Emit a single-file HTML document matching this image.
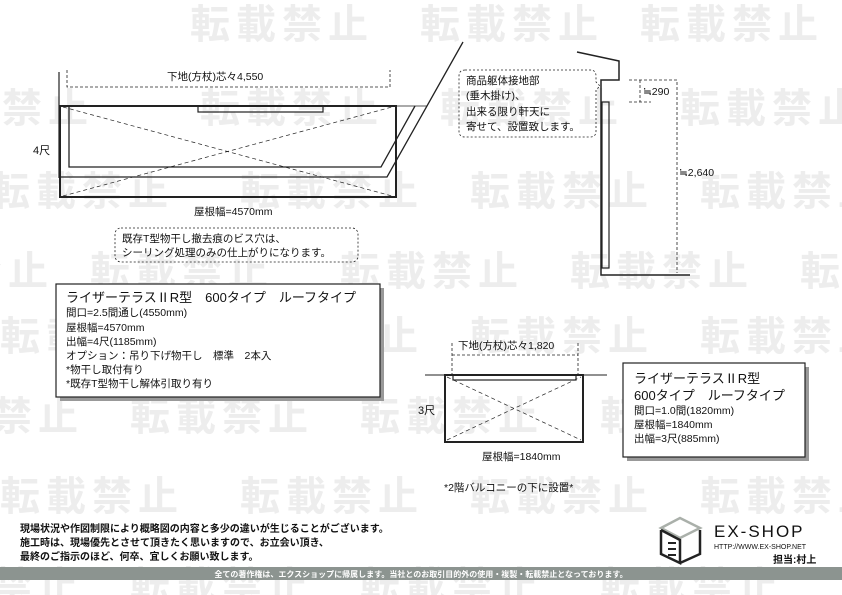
<!DOCTYPE html>
<html><head><meta charset="utf-8"><style>
html,body{margin:0;padding:0;background:#fff}
#c{position:relative;width:842px;height:595px;overflow:hidden;background:#fff}
svg{position:absolute;left:0;top:0}
text{font-family:"Liberation Sans","Noto Sans CJK JP",sans-serif;fill:#111}
.wm{fill:#ededed;font-size:40px;font-weight:bold;letter-spacing:6px}
</style></head><body><div id="c">
<svg width="842" height="595" viewBox="0 0 842 595">
<g class="wmg">
<text class="wm" x="190" y="38">転載禁止</text><text class="wm" x="420" y="38">転載禁止</text><text class="wm" x="640" y="38">転載禁止</text>
<text class="wm" x="-90" y="122">転載禁止</text><text class="wm" x="200" y="122">転載禁止</text><text class="wm" x="440" y="122">転載禁止</text><text class="wm" x="680" y="122">転載禁止</text>
<text class="wm" x="-10" y="205">転載禁止</text><text class="wm" x="240" y="205">転載禁止</text><text class="wm" x="470" y="205">転載禁止</text><text class="wm" x="700" y="205">転載禁止</text>
<text class="wm" x="-130" y="285">転載禁止</text><text class="wm" x="90" y="285">転載禁止</text><text class="wm" x="340" y="285">転載禁止</text><text class="wm" x="570" y="285">転載禁止</text><text class="wm" x="800" y="285">転載禁止</text>
<text class="wm" x="0" y="350">転載禁止</text><text class="wm" x="240" y="350">転載禁止</text><text class="wm" x="470" y="350">転載禁止</text><text class="wm" x="700" y="350">転載禁止</text>
<text class="wm" x="-100" y="430">転載禁止</text><text class="wm" x="130" y="430">転載禁止</text><text class="wm" x="360" y="430">転載禁止</text><text class="wm" x="600" y="430">転載禁止</text>
<text class="wm" x="0" y="510">転載禁止</text><text class="wm" x="240" y="510">転載禁止</text><text class="wm" x="470" y="510">転載禁止</text><text class="wm" x="700" y="510">転載禁止</text>
<text class="wm" x="-100" y="600">転載禁止</text><text class="wm" x="130" y="600">転載禁止</text><text class="wm" x="360" y="600">転載禁止</text><text class="wm" x="600" y="600">転載禁止</text>
</g>
<g fill="none" stroke="#222">
<line x1="59" y1="72" x2="59" y2="178" stroke-width="1.2"/>
<path d="M67 70 V87 H390 V70" stroke-dasharray="3,2" stroke-width="0.8"/>
<line x1="59" y1="106" x2="427" y2="106" stroke="#555"/>
<rect x="60" y="106" width="336" height="91" stroke-width="2"/>
<rect x="198" y="106" width="125" height="6" stroke-width="1.2"/>
<path d="M69 106 V167 H381 L415 106" stroke-width="1.3"/>
<path d="M59 177 H387 L463 42" stroke-width="1.3"/>
<path d="M63 107 L392 196 M63 196 L392 107" stroke-dasharray="4,3" stroke-width="0.7"/>
<rect x="115" y="228" width="243" height="34" rx="6" stroke-dasharray="2,2" stroke-width="0.8"/>
</g>
<text x="167" y="80" font-size="10.5">下地(方杖)芯々4,550</text>
<text x="33" y="154" font-size="11">4尺</text>
<text x="194" y="215" font-size="10.5">屋根幅=4570mm</text>
<text x="122" y="242" font-size="10.5">既存T型物干し撤去痕のビス穴は、</text>
<text x="122" y="256" font-size="10.5">シーリング処理のみの仕上がりになります。</text>
<g fill="none" stroke="#222">
<path d="M577 52 L619 61 V80 H601 V275 H690" stroke-width="1.5"/>
<rect x="602" y="102" width="7" height="166" stroke-width="1.2"/>
<path d="M629 80 H677 V273" stroke-dasharray="3,2" stroke-width="0.8"/>
<path d="M640 80 V102 M629 102 H651" stroke-dasharray="3,2" stroke-width="0.8"/>
<path d="M465 70 H590 Q596 70 596 76 V82 L600 86 L596 90 V131 Q596 137 590 137 H465 Q459 137 459 131 V76 Q459 70 465 70 Z" stroke-dasharray="2,2" stroke-width="0.8"/>
</g>
<text x="643" y="95" font-size="10.5">≒290</text>
<text x="679" y="176" font-size="10.5">≒2,640</text>
<text x="466" y="84" font-size="10.5">商品躯体接地部</text>
<text x="466" y="99" font-size="10.5">(垂木掛け)、</text>
<text x="466" y="115" font-size="10.5">出来る限り軒天に</text>
<text x="466" y="130" font-size="10.5">寄せて、設置致します。</text>
<rect x="60" y="288" width="324" height="113" fill="#999"/>
<rect x="56" y="284" width="324" height="113" fill="#fff" stroke="#222" stroke-width="1.2"/>
<text x="66" y="302" font-size="13">ライザーテラスⅡR型　600タイプ　ルーフタイプ</text>
<text x="66" y="316" font-size="10.5">間口=2.5間通し(4550mm)</text>
<text x="66" y="331" font-size="10.5">屋根幅=4570mm</text>
<text x="66" y="345" font-size="10.5">出幅=4尺(1185mm)</text>
<text x="66" y="359" font-size="10.5">オプション：吊り下げ物干し　標準　2本入</text>
<text x="66" y="373" font-size="10.5">*物干し取付有り</text>
<text x="66" y="387" font-size="10.5">*既存T型物干し解体引取り有り</text>
<g fill="none" stroke="#222">
<path d="M452 343 V375 M578 343 V375 M452 355 H578" stroke-dasharray="3,2" stroke-width="0.8"/>
<line x1="425" y1="375" x2="607" y2="375" stroke-width="1"/>
<rect x="445" y="375" width="138" height="67" stroke-width="2"/>
<rect x="453" y="375" width="123" height="5" stroke-width="1.2"/>
<path d="M447 377 L581 440 M447 440 L581 377" stroke-dasharray="4,3" stroke-width="0.7"/>
</g>
<text x="458" y="349" font-size="10.5">下地(方杖)芯々1,820</text>
<text x="418" y="414" font-size="11">3尺</text>
<text x="482" y="460" font-size="10.5">屋根幅=1840mm</text>
<text x="444" y="491" font-size="10.5">*2階バルコニーの下に設置*</text>
<rect x="627" y="367" width="182" height="94" fill="#999"/>
<rect x="623" y="363" width="182" height="94" fill="#fff" stroke="#222" stroke-width="1.2"/>
<text x="634" y="383" font-size="13">ライザーテラスⅡR型</text>
<text x="634" y="400" font-size="13">600タイプ　ルーフタイプ</text>
<text x="634" y="414" font-size="10.5">間口=1.0間(1820mm)</text>
<text x="634" y="428" font-size="10.5">屋根幅=1840mm</text>
<text x="634" y="442" font-size="10.5">出幅=3尺(885mm)</text>
<text x="20" y="532" font-size="10" font-weight="bold">現場状況や作図制限により概略図の内容と多少の違いが生じることがございます。</text>
<text x="20" y="546" font-size="10" font-weight="bold">施工時は、現場優先とさせて頂きたく思いますので、お立会い頂き、</text>
<text x="20" y="560" font-size="10" font-weight="bold">最終のご指示のほど、何卒、宜しくお願い致します。</text>
<g fill="none" stroke-width="2.5">
<path d="M661 528 L680 518 L700 528 L680 538 Z" stroke="#aab0aa"/>
<path d="M661 530 V554 L680 563 V540 L661 530 M700 530 V554 L680 563" stroke="#222"/>
<path d="M668 543 H676 M668 549 H676 M668 555 H676" stroke="#222" stroke-width="2"/>
</g>
<text x="714" y="537" font-size="17" letter-spacing="2">EX-SHOP</text>
<text x="714" y="549" font-size="7">HTTP://WWW.EX-SHOP.NET</text>
<text x="773" y="563" font-size="10" font-weight="bold">担当:村上</text>
<rect x="0" y="567" width="842" height="13" fill="#8c9490"/>
<text x="421" y="577" font-size="8" font-weight="bold" text-anchor="middle" style="fill:#fff">全ての著作権は、エクスショップに帰属します。当社とのお取引目的外の使用・複製・転載禁止となっております。</text>
</svg>
</div></body></html>
